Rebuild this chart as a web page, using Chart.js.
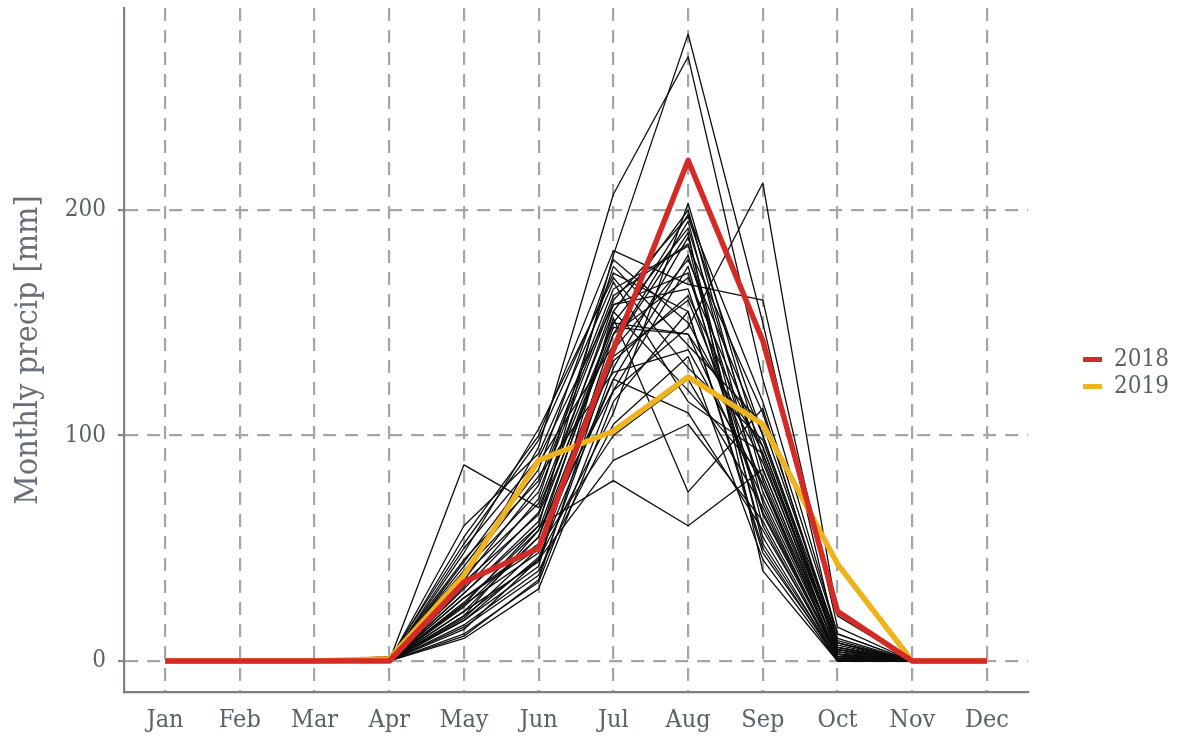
<!DOCTYPE html>
<html lang="en">
<head>
<meta charset="UTF-8">
<title>Monthly precipitation</title>
<script src="https://cdn.jsdelivr.net/npm/chart.js"></script>
<style>
  html, body { margin: 0; padding: 0; background: #fff; }
</style>
</head>
<body>
<canvas id="chart" width="1186" height="738"></canvas>
<script>
const months = ['Jan', 'Feb', 'Mar', 'Apr', 'May', 'Jun', 'Jul', 'Aug', 'Sep', 'Oct', 'Nov', 'Dec'];
const yTicks = [0, 100, 200];

const precip2018 = [0, 0, 0, 0, 35, 50, 138, 222, 142, 22, 0, 0];
const precip2019 = [0, 0, 0, 1, 38, 89, 102, 126, 105, 43, 0, 0];

// earlier years, thin black lines (mm per month)
const pastYears = [
  [0, 0, 0, 0, 25, 60, 180, 278, 150, 8, 0, 0],
  [0, 0, 0, 1, 35, 95, 207, 268, 125, 12, 0, 0],
  [0, 0, 0, 0, 87, 68, 150, 145, 95, 5, 0, 0],
  [0, 0, 0, 0, 55, 100, 182, 167, 160, 15, 0, 0],
  [0, 0, 0, 0, 20, 45, 110, 203, 90, 3, 0, 0],
  [0, 0, 0, 0, 18, 42, 155, 200, 80, 2, 0, 0],
  [0, 0, 0, 2, 40, 75, 160, 197, 100, 6, 0, 0],
  [0, 0, 0, 0, 22, 55, 140, 195, 70, 1, 0, 0],
  [0, 0, 0, 0, 30, 62, 150, 192, 85, 4, 0, 0],
  [0, 0, 0, 0, 15, 38, 130, 188, 60, 0, 0, 0],
  [0, 0, 0, 1, 45, 80, 165, 184, 110, 8, 0, 0],
  [0, 0, 0, 0, 28, 52, 125, 180, 75, 3, 0, 0],
  [0, 0, 0, 0, 12, 35, 120, 175, 55, 0, 0, 0],
  [0, 0, 0, 0, 35, 65, 145, 170, 95, 5, 0, 0],
  [0, 0, 0, 0, 50, 90, 158, 165, 65, 2, 0, 0],
  [0, 0, 0, 0, 25, 48, 135, 160, 78, 1, 0, 0],
  [0, 0, 0, 0, 10, 32, 115, 155, 50, 0, 0, 0],
  [0, 0, 0, 1, 42, 85, 178, 150, 88, 7, 0, 0],
  [0, 0, 0, 0, 20, 58, 148, 145, 72, 3, 0, 0],
  [0, 0, 0, 0, 33, 72, 175, 140, 105, 10, 0, 0],
  [0, 0, 0, 0, 16, 40, 105, 135, 45, 0, 0, 0],
  [0, 0, 0, 0, 48, 103, 170, 130, 98, 6, 0, 0],
  [0, 0, 0, 0, 28, 50, 100, 125, 68, 2, 0, 0],
  [0, 0, 0, 0, 38, 70, 155, 120, 82, 4, 0, 0],
  [0, 0, 0, 0, 60, 92, 168, 115, 92, 8, 0, 0],
  [0, 0, 0, 0, 14, 45, 89, 105, 62, 1, 0, 0],
  [0, 0, 0, 0, 24, 55, 152, 75, 112, 5, 0, 0],
  [0, 0, 0, 0, 30, 60, 80, 60, 85, 4, 0, 0],
  [0, 0, 0, 0, 26, 58, 120, 148, 212, 20, 0, 0],
  [0, 0, 0, 0, 18, 46, 125, 110, 58, 2, 0, 0],
  [0, 0, 0, 0, 36, 78, 162, 185, 52, 1, 0, 0],
  [0, 0, 0, 0, 44, 88, 140, 190, 40, 0, 0, 0],
  [0, 0, 0, 0, 11, 36, 138, 178, 100, 9, 0, 0],
  [0, 0, 0, 0, 32, 66, 158, 172, 66, 3, 0, 0],
  [0, 0, 0, 0, 22, 44, 145, 198, 115, 12, 0, 0],
  [0, 0, 0, 1, 52, 98, 172, 155, 48, 1, 0, 0],
  [0, 0, 0, 0, 40, 82, 128, 138, 78, 5, 0, 0],
  [0, 0, 0, 0, 19, 50, 133, 162, 92, 6, 0, 0]
];

const FONT = "'DejaVu Serif Condensed', 'DejaVu Serif', serif";
const axisColor = '#7a8087';
const gridColor = '#a2a5aa';
const textColor = '#59616b';

function toPoints(values) {
  return values.map((v, i) => ({ x: i, y: v }));
}

const datasets = [
  { label: '2018', data: toPoints(precip2018), borderColor: '#d52b27', backgroundColor: '#d52b27', borderWidth: 5.5 },
  { label: '2019', data: toPoints(precip2019), borderColor: '#efb31d', backgroundColor: '#efb31d', borderWidth: 5.5 }
];
pastYears.forEach((vals, i) => {
  datasets.push({ label: 'past' + i, data: toPoints(vals), borderColor: '#0d0d0d', borderWidth: 1.3 });
});
datasets.forEach(d => {
  d.pointRadius = 0;
  d.tension = 0;
  d.fill = false;
  d.borderJoinStyle = 'round';
});

// no extra room for edge labels, plot area is set by hand
function noEdgePadding(s) {
  s.paddingTop = 0;
  s.paddingBottom = 0;
  s.paddingLeft = 0;
  s.paddingRight = 0;
}

new Chart(document.getElementById('chart').getContext('2d'), {
  type: 'line',
  data: { datasets: datasets },
  options: {
    responsive: false,
    animation: false,
    layout: { padding: { top: 8, right: 7, left: 0, bottom: 0 } },
    plugins: {
      tooltip: { enabled: false },
      legend: {
        position: 'right',
        align: 'center',
        labels: {
          boxWidth: 19,
          boxHeight: 5,
          padding: 3,
          color: textColor,
          font: { family: FONT, size: 24 },
          generateLabels: chart => Chart.defaults.plugins.legend.labels.generateLabels(chart)
            .filter(l => l.datasetIndex < 2)
            .map(l => Object.assign(l, { lineWidth: 0, fillStyle: l.strokeStyle }))
        }
      }
    },
    scales: {
      x: {
        type: 'linear',
        min: -0.55,
        max: 11.55,
        afterBuildTicks: s => { s.ticks = months.map((m, i) => ({ value: i })); },
        afterFit: s => { s.height = 46; noEdgePadding(s); },
        grid: { color: gridColor, lineWidth: 2.2, drawTicks: false },
        border: { color: axisColor, width: 2.2, dash: [13, 9] },
        ticks: {
          autoSkip: false,
          maxRotation: 0,
          padding: 13,
          color: textColor,
          font: { family: FONT, size: 25 },
          callback: v => months[v]
        }
      },
      y: {
        min: -13.75,
        max: 289.6,
        afterBuildTicks: s => { s.ticks = yTicks.map(v => ({ value: v })); },
        afterFit: s => { s.width = 124; noEdgePadding(s); },
        grid: { color: gridColor, lineWidth: 2.2, drawTicks: true, tickLength: 6, tickColor: axisColor, tickWidth: 2 },
        border: { color: axisColor, width: 2.2, dash: [13, 9] },
        ticks: { padding: 12, color: textColor, font: { family: FONT, size: 24 } },
        title: {
          display: true,
          text: 'Monthly precip [mm]',
          color: '#67707a',
          font: { family: FONT, size: 32 },
          padding: { top: 9, bottom: 0 }
        }
      },
      y2: {
        position: 'right',
        display: true,
        grid: { display: false, drawTicks: false },
        border: { display: false },
        ticks: { display: false },
        afterFit: s => { s.width = 52; noEdgePadding(s); }
      }
    }
  }
});
</script>
</body>
</html>
